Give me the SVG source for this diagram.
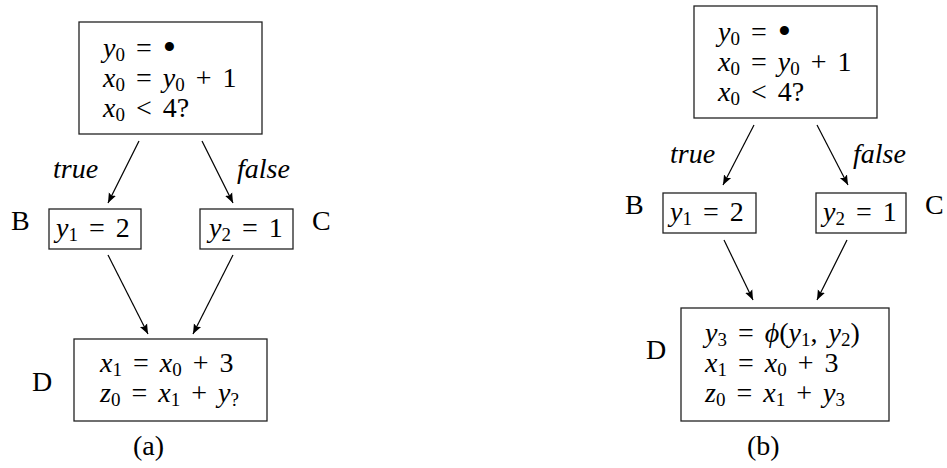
<svg xmlns="http://www.w3.org/2000/svg" width="947" height="468" viewBox="0 0 947 468">
<style>
.box{fill:#fff;stroke:#222;stroke-width:1.3}
.m{font-family:"Liberation Serif","DejaVu Serif",serif;font-size:28px;fill:#000;word-spacing:4px}
.i{font-style:italic}
.s{font-size:19px}
.b{font-size:38px}
.lbl{font-family:"Liberation Serif","DejaVu Serif",serif;font-size:28px;fill:#000}
.e{stroke:#000;stroke-width:1.2;fill:none;marker-end:url(#ah)}
</style>
<defs>
<marker id="ah" viewBox="0 0 10 10" refX="10" refY="5" markerWidth="10" markerHeight="10" markerUnits="userSpaceOnUse" orient="auto">
<path d="M0,1 L10,5 L0,9 L2,5 Z" fill="#000"/>
</marker>
</defs>
<g id="connectors">
<line class="e" x1="139" y1="141" x2="108" y2="203"/>
<line class="e" x1="202" y1="141" x2="233" y2="203"/>
<line class="e" x1="108" y1="255" x2="148" y2="334"/>
<line class="e" x1="233" y1="255" x2="193" y2="334"/>
<line class="e" x1="754" y1="125" x2="723" y2="185"/>
<line class="e" x1="817" y1="125" x2="848" y2="185"/>
<line class="e" x1="724" y1="240" x2="753" y2="300"/>
<line class="e" x1="847" y1="240" x2="817" y2="300"/>
<text class="lbl i" x="53" y="178">true</text>
<text class="lbl i" x="237" y="178">false</text>
<text class="lbl i" x="670" y="163">true</text>
<text class="lbl i" x="853" y="163">false</text>
</g>
<g id="a-A">
<rect class="box" x="79" y="22" width="183" height="112"/>
<text class="m" x="103" y="57"><tspan class="i">y</tspan><tspan class="s" dy="4">0</tspan><tspan dy="-4"> = </tspan><tspan class="b" dy="3">•</tspan></text>
<text class="m" x="103" y="87"><tspan class="i">x</tspan><tspan class="s" dy="4">0</tspan><tspan dy="-4"> = </tspan><tspan class="i">y</tspan><tspan class="s" dy="4">0</tspan><tspan dy="-4"> + 1</tspan></text>
<text class="m" x="103" y="117"><tspan class="i">x</tspan><tspan class="s" dy="4">0</tspan><tspan dy="-4"> &lt; 4?</tspan></text>
</g>
<g id="a-B">
<text class="lbl" x="11" y="230">B</text>
<rect class="box" x="49" y="209" width="92" height="40"/>
<text class="m" x="56" y="237"><tspan class="i">y</tspan><tspan class="s" dy="4">1</tspan><tspan dy="-4"> = 2</tspan></text>
</g>
<g id="a-C">
<rect class="box" x="200" y="209" width="93" height="40"/>
<text class="m" x="209" y="237"><tspan class="i">y</tspan><tspan class="s" dy="4">2</tspan><tspan dy="-4"> = 1</tspan></text>
<text class="lbl" x="312" y="230">C</text>
</g>
<g id="a-D">
<text class="lbl" x="32" y="391">D</text>
<rect class="box" x="74" y="339" width="193" height="82"/>
<text class="m" x="100" y="372"><tspan class="i">x</tspan><tspan class="s" dy="4">1</tspan><tspan dy="-4"> = </tspan><tspan class="i">x</tspan><tspan class="s" dy="4">0</tspan><tspan dy="-4"> + 3</tspan></text>
<text class="m" x="100" y="402"><tspan class="i">z</tspan><tspan class="s" dy="4">0</tspan><tspan dy="-4"> = </tspan><tspan class="i">x</tspan><tspan class="s" dy="4">1</tspan><tspan dy="-4"> + </tspan><tspan class="i">y</tspan><tspan class="s" dy="4">?</tspan></text>
</g>
<text class="lbl" x="133" y="455">(a)</text>
<g id="b-A">
<rect class="box" x="694" y="6" width="183" height="112"/>
<text class="m" x="718" y="41"><tspan class="i">y</tspan><tspan class="s" dy="4">0</tspan><tspan dy="-4"> = </tspan><tspan class="b" dy="3">•</tspan></text>
<text class="m" x="718" y="71"><tspan class="i">x</tspan><tspan class="s" dy="4">0</tspan><tspan dy="-4"> = </tspan><tspan class="i">y</tspan><tspan class="s" dy="4">0</tspan><tspan dy="-4"> + 1</tspan></text>
<text class="m" x="718" y="101"><tspan class="i">x</tspan><tspan class="s" dy="4">0</tspan><tspan dy="-4"> &lt; 4?</tspan></text>
</g>
<g id="b-B">
<text class="lbl" x="625" y="214">B</text>
<rect class="box" x="663" y="193" width="93" height="40"/>
<text class="m" x="670" y="221"><tspan class="i">y</tspan><tspan class="s" dy="4">1</tspan><tspan dy="-4"> = 2</tspan></text>
</g>
<g id="b-C">
<rect class="box" x="816" y="193" width="90" height="40"/>
<text class="m" x="823" y="221"><tspan class="i">y</tspan><tspan class="s" dy="4">2</tspan><tspan dy="-4"> = 1</tspan></text>
<text class="lbl" x="925" y="214">C</text>
</g>
<g id="b-D">
<text class="lbl" x="646" y="359">D</text>
<rect class="box" x="681" y="308" width="208" height="113"/>
<text class="m" x="705" y="342"><tspan class="i">y</tspan><tspan class="s" dy="4">3</tspan><tspan dy="-4"> = </tspan><tspan class="i">ϕ</tspan><tspan>(</tspan><tspan class="i">y</tspan><tspan class="s" dy="4">1</tspan><tspan dy="-4">, </tspan><tspan class="i">y</tspan><tspan class="s" dy="4">2</tspan><tspan dy="-4">)</tspan></text>
<text class="m" x="705" y="372"><tspan class="i">x</tspan><tspan class="s" dy="4">1</tspan><tspan dy="-4"> = </tspan><tspan class="i">x</tspan><tspan class="s" dy="4">0</tspan><tspan dy="-4"> + 3</tspan></text>
<text class="m" x="705" y="402"><tspan class="i">z</tspan><tspan class="s" dy="4">0</tspan><tspan dy="-4"> = </tspan><tspan class="i">x</tspan><tspan class="s" dy="4">1</tspan><tspan dy="-4"> + </tspan><tspan class="i">y</tspan><tspan class="s" dy="4">3</tspan></text>
</g>
<text class="lbl" x="747" y="455">(b)</text>
</svg>
